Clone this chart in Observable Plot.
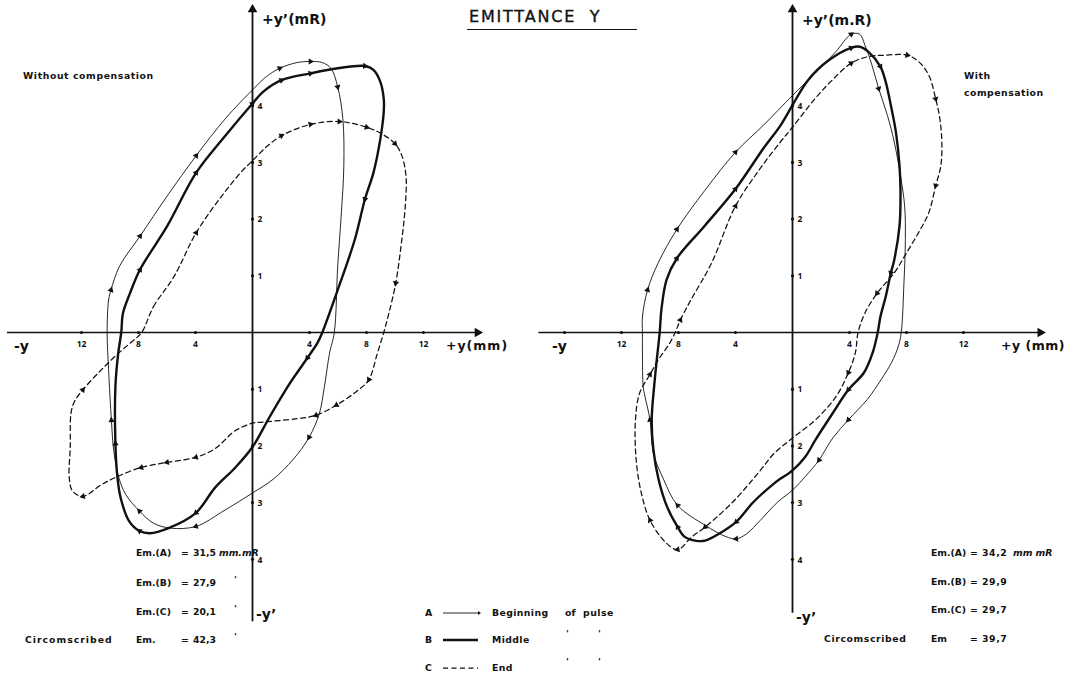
<!DOCTYPE html>
<html>
<head>
<meta charset="utf-8">
<title>Emittance Y</title>
<script src="https://cdn.jsdelivr.net/npm/d3@7"></script>
<script src="https://cdn.jsdelivr.net/npm/@observablehq/plot@0.6"></script>
<style>
  html, body { margin: 0; padding: 0; background: #fff; }
  #fig { position: relative; width: 1078px; height: 679px; overflow: hidden; background: #fff;
         font-family: "DejaVu Sans", "Liberation Sans", sans-serif; color: #111; }
  #fig .panel { position: absolute; top: 0; }
  #fig .t { position: absolute; white-space: pre; font-weight: bold; line-height: 1; transform: translateY(-50%); }
  #fig .small { font-size: 9.3px; }
  #fig .axl { font-size: 14px; }
  #fig .axm { font-size: 12.5px; }
  #title { position: absolute; left: 469px; top: 7px; font-size: 16px; letter-spacing: 1.8px; white-space: pre; -webkit-text-stroke: 0.35px #111; }
  #title-rule { position: absolute; left: 467px; top: 29px; width: 170px; border-top: 1.4px solid #111; }
</style>
</head>
<body>
<div id="fig"></div>
<script>
// ---- axes: tick values and their printed labels ----
const xTicksLeft = [-12, -8, -4, 4, 8, 12];
const xTickLabelsLeft = ["12", "8", "4", "4", "8", "12"];
const xTicksRight = [-16, -12, -8, -4, 4, 8, 12];
const xTickLabelsRight = ["", "12", "8", "4", "4", "8", "12"];
const yTicks = [4, 3, 2, 1, -1, -2, -3, -4];
const yTickLabels = ["4", "3", "2", "1", "1", "2", "3", "4"];

// ---- emittance contours [y (mm), y' (mR), arrowhead?] traced clockwise ----
// Without compensation
const leftA = [
  [-10.2, 0], [-10.1, 0.57], [-9.93, 0.75, 1], [-9.33, 1.17], [-7.89, 1.7, 1], [-5.98, 2.41],
  [-3.95, 3.12, 1], [-1.91, 3.77], [0.12, 4.31], [0.96, 4.51], [1.91, 4.66, 1], [3.11, 4.76],
  [4.07, 4.78, 1], [4.9, 4.76], [5.5, 4.66], [5.98, 4.33, 1], [6.34, 3.77], [6.41, 2.94],
  [6.22, 2.05], [5.98, 1.17], [5.74, 0],
  [5.41, -0.36], [5.05, -0.95], [4.69, -1.43], [3.97, -1.85, 1], [2.88, -2.23], [1.44, -2.59],
  [0, -2.83], [-1.92, -3.13], [-3.97, -3.42, 1], [-5.77, -3.45], [-6.97, -3.36], [-7.93, -3.15, 1],
  [-8.89, -2.86], [-9.38, -2.56], [-9.74, -2.08], [-9.9, -1.55, 1], [-10.1, -0.65]
];
const leftB = [
  [-9.21, 0], [-9.09, 0.34], [-8.6, 0.69], [-7.89, 1.11, 1], [-5.98, 1.88], [-3.95, 2.82, 1],
  [-1.91, 3.47], [0, 4.04, 1], [0.72, 4.24], [2.03, 4.45, 1], [4.07, 4.57, 1], [5.98, 4.66],
  [7.89, 4.7, 1], [8.49, 4.63], [8.97, 4.42], [9.21, 4.12], [9.21, 3.89], [8.97, 3.41],
  [8.49, 2.82], [7.89, 2.35, 1], [7.18, 1.64], [5.98, 0.75], [4.9, 0],
  [4.57, -0.18], [3.85, -0.45, 1], [2.64, -0.89], [1.2, -1.49], [0, -2.02], [-1.2, -2.38],
  [-2.64, -2.74], [-3.97, -3.18, 1], [-5.89, -3.45], [-7.21, -3.54], [-7.93, -3.5, 1],
  [-8.65, -3.33], [-9.25, -2.92], [-9.5, -2.5], [-9.62, -1.96, 1], [-9.62, -0.95], [-9.42, -0.36]
];
const leftC = [
  [-7.78, 0], [-6.94, 0.46], [-5.5, 0.99], [-3.95, 1.76, 1], [-2.15, 2.41], [-0.72, 2.85],
  [0, 3.03], [0.96, 3.27], [2.03, 3.47, 1], [4.07, 3.67, 1], [6.1, 3.72, 1], [8.01, 3.62, 1],
  [9.09, 3.5], [10.0, 3.33, 1], [10.48, 3.12], [10.77, 2.76], [10.72, 2.23], [10.48, 1.64],
  [10.05, 0.87, 1], [9.57, 0.34], [9.21, 0],
  [8.77, -0.36], [8.17, -0.83, 1], [7.45, -1.01], [5.89, -1.28, 1], [4.45, -1.46, 1],
  [3.13, -1.52], [0.72, -1.58], [0, -1.6], [-1.2, -1.73], [-2.64, -2.05], [-3.97, -2.2, 1],
  [-6.0, -2.29, 1], [-7.81, -2.38, 1], [-9.38, -2.53], [-10.58, -2.68], [-11.9, -2.89, 1],
  [-12.62, -2.8], [-12.86, -2.56], [-12.79, -2.02], [-12.74, -1.43], [-12.5, -1.22],
  [-11.9, -1.01, 1], [-10.58, -0.65], [-9.38, -0.36], [-8.41, -0.15]
];
// With compensation
const rightA = [
  [-10.53, 0], [-10.53, 0.28], [-10.17, 0.75, 1], [-9.44, 1.22], [-8.11, 1.82, 1], [-6.17, 2.5],
  [-4.0, 3.18, 1], [-2.06, 3.65], [0, 4.18], [1.57, 4.57], [3.03, 4.95], [4.12, 5.26, 1],
  [4.72, 5.26], [5.08, 5.07], [5.57, 4.72], [6.05, 4.3, 1], [6.66, 3.83], [7.14, 3.36],
  [7.58, 2.76], [7.87, 2.23], [7.92, 1.64], [7.82, 0.87], [7.63, 0],
  [7.43, -0.24], [6.95, -0.53], [6.22, -0.83], [5.25, -1.18], [3.92, -1.54, 1], [2.83, -1.86],
  [1.86, -2.25, 1], [0.9, -2.54], [0, -2.78], [-1.04, -2.99], [-2.25, -3.31], [-3.22, -3.55],
  [-3.95, -3.64, 1], [-4.67, -3.6], [-6.13, -3.4], [-8.06, -3.05, 1], [-9.03, -2.6],
  [-9.76, -2.13], [-10.0, -1.54, 1], [-10.36, -1.12], [-10.48, -0.95], [-10.53, -0.36]
];
const rightB = [
  [-9.32, 0], [-9.2, 0.4], [-8.84, 0.93], [-8.11, 1.31, 1], [-6.17, 1.88], [-4.0, 2.53, 1],
  [-2.06, 3.24], [-0.85, 3.65], [0, 4.01], [1.09, 4.45], [2.54, 4.8], [4.12, 5.02, 1],
  [4.72, 5.04], [5.33, 4.95], [6.17, 4.69, 1], [6.54, 4.42], [6.9, 4.01], [7.26, 3.53],
  [7.51, 2.94], [7.58, 2.47], [7.51, 1.88], [7.14, 1.28], [6.9, 1.05, 1], [6.54, 0.63],
  [6.17, 0.28], [5.98, 0],
  [5.62, -0.36], [5.01, -0.71], [3.92, -1.01, 1], [2.83, -1.42], [1.62, -1.89], [0.9, -2.19],
  [0, -2.43], [-1.28, -2.66], [-2.74, -2.99], [-3.95, -3.34, 1], [-5.16, -3.55], [-6.13, -3.67],
  [-6.85, -3.67], [-7.58, -3.6], [-8.06, -3.43, 1], [-8.79, -3.08], [-9.39, -2.6],
  [-9.76, -2.07], [-9.88, -1.54], [-9.71, -0.95], [-9.52, -0.47]
];
const rightC = [
  [-8.23, 0], [-7.87, 0.22, 1], [-7.14, 0.57], [-5.69, 1.22], [-4.0, 2.23, 1], [-2.3, 2.88],
  [-0.85, 3.36], [0, 3.62], [1.57, 4.12], [2.78, 4.45], [4.12, 4.75, 1], [5.21, 4.86],
  [6.42, 4.89], [8.06, 4.89, 1], [8.84, 4.78], [9.56, 4.54], [10.05, 4.12, 1], [10.34, 3.77],
  [10.48, 3.36], [10.41, 2.94], [10.05, 2.59, 1], [9.56, 2.11], [8.84, 1.76], [7.99, 1.4],
  [7.14, 1.05], [5.93, 0.69, 1], [5.08, 0.34], [4.6, 0],
  [4.41, -0.36], [3.92, -0.71, 1], [3.08, -1.12], [1.62, -1.54], [0, -1.86], [-1.28, -2.13],
  [-2.25, -2.43], [-4.19, -2.99], [-6.13, -3.43, 1], [-7.09, -3.61], [-8.06, -3.83, 1],
  [-8.91, -3.7], [-10.0, -3.31, 1], [-10.6, -2.84], [-10.97, -2.25], [-11.02, -1.54],
  [-10.73, -1.07], [-10.0, -0.74, 1], [-9.39, -0.47], [-8.67, -0.21]
];

// ---- annotations ----
const emNamesLeft = ["Em.(A)", "Em.(B)", "Em.(C)", "Em."];
const emValuesLeft = ["31,5", "27,9", "20,1", "42,3"];
const emNamesRight = ["Em.(A)", "Em.(B)", "Em.(C)", "Em"];
const emValuesRight = ["34,2", "29,9", "29,7", "39,7"];
const legendKeys = ["A", "B", "C"];
const legendLabels = ["Beginning", "Middle", "End"];

// ---- layout ----
const fig = document.getElementById("fig");
const PW = 539, PH = 679;          // panel size in px
const KX = 14.25, KY = 56.7;       // px per mm, px per mR
const STYLE = {
  A: {strokeWidth: 0.9},
  B: {strokeWidth: 2.4},
  C: {strokeWidth: 1.25, strokeDasharray: "5,3.5"}
};

function arrowheads(pts) {
  const n = pts.length;
  return pts.flatMap((p, i) => {
    if (!p[2]) return [];
    const a = pts[(i - 1 + n) % n], b = pts[(i + 1) % n];
    const dx = (b[0] - a[0]) * KX, dy = -(b[1] - a[1]) * KY;
    return [{x: p[0], y: p[1], angle: Math.atan2(dx, -dy) * 180 / Math.PI}];
  });
}

function panel({left, originX, originY, curves, xTicks, xTickLabels, xExtent, yExtent}) {
  const x = {domain: [-originX / KX, (PW - originX) / KX], range: [0, PW], axis: null};
  const y = {domain: [-(PH - originY) / KY, originY / KY], range: [PH, 0], axis: null};
  const marks = [
    Plot.ruleY([0], {x1: xExtent[0], x2: xExtent[1], stroke: "#111", strokeWidth: 1.3}),
    Plot.ruleX([0], {y1: yExtent[0], y2: yExtent[1], stroke: "#111", strokeWidth: 1.8}),
    Plot.dot([xExtent[1]], {x: d => d, y: 0, symbol: "triangle", r: 3.6, fill: "#111", stroke: null, rotate: 90, dx: -3}),
    Plot.dot([yExtent[1]], {x: 0, y: d => d, symbol: "triangle", r: 3.6, fill: "#111", stroke: null, dy: 3}),
    Plot.dot(xTicks, {x: d => d, y: 0, r: 1.6, fill: "#111", stroke: null}),
    Plot.dot(yTicks, {x: 0, y: d => d, r: 1.6, fill: "#111", stroke: null}),
    Plot.text(xTicks, {x: d => d, y: 0, text: (d, i) => xTickLabels[i], dy: 12, fontSize: 8.5, fontWeight: "bold", fill: "#111"}),
    Plot.text(yTicks, {x: 0, y: d => d, text: (d, i) => yTickLabels[i], dx: 5, dy: 0.5, textAnchor: "start", fontSize: 8.5, fontWeight: "bold", fill: "#111"})
  ];
  for (const [key, pts] of Object.entries(curves)) {
    marks.push(Plot.line(pts, {x: d => d[0], y: d => d[1], curve: "catmull-rom-closed",
      stroke: "#111", strokeLinejoin: "round", ...STYLE[key]}));
    marks.push(Plot.dot(arrowheads(pts), {x: "x", y: "y", rotate: "angle", symbol: "triangle",
      r: 2.3, fill: "#111", stroke: null}));
  }
  const svg = Plot.plot({
    width: PW, height: PH, margin: 0, x, y,
    style: {background: "transparent", overflow: "visible"},
    marks
  });
  svg.classList.add("panel");
  svg.style.left = left + "px";
  fig.appendChild(svg);
}

panel({left: 0, originX: 252, originY: 332, curves: {C: leftC, A: leftA, B: leftB},
  xTicks: xTicksLeft, xTickLabels: xTickLabelsLeft, xExtent: [-17.2, 16.0], yExtent: [-5.1, 5.75]});
panel({left: PW, originX: 792 - PW, originY: 332, curves: {C: rightC, A: rightA, B: rightB},
  xTicks: xTicksRight, xTickLabels: xTickLabelsRight, xExtent: [-17.8, 17.6], yExtent: [-4.95, 5.75]});

// ---- text ----
function put(text, left, cy, cls, extra) {
  const el = document.createElement("div");
  el.className = "t " + cls;
  el.textContent = text;
  el.style.left = left + "px";
  el.style.top = cy + "px";
  if (extra) Object.assign(el.style, extra);
  fig.appendChild(el);
  return el;
}

const title = document.createElement("div");
title.id = "title";
title.textContent = "EMITTANCE  Y";
fig.appendChild(title);
const rule = document.createElement("div");
rule.id = "title-rule";
fig.appendChild(rule);

// axis names
put("+y\u2019(mR)", 262, 19, "axl");
put("-y", 14, 346, "axl");
put("+y(mm)", 446, 346, "axm", {letterSpacing: "1px"});
put("-y\u2019", 256, 614, "axl");
put("+y\u2019(m.R)", 802, 20, "axl");
put("-y", 552, 346, "axl");
put("+y (mm)", 1001, 346, "axm", {letterSpacing: "0.5px"});
put("-y\u2019", 796, 617, "axl");

put("Without compensation", 23, 76, "small", {letterSpacing: "0.6px"});
put("With", 964, 76, "small", {letterSpacing: "0.5px"});
put("compensation", 964, 93, "small", {letterSpacing: "0.5px"});

// emittance values
const rowsLeft = [553, 583, 612, 640];
emNamesLeft.forEach((name, i) => {
  const cy = rowsLeft[i];
  put(name, 136, cy, "small");
  put("=", 181, cy, "small");
  put(emValuesLeft[i], 193, cy, "small");
  put(i === 0 ? "mm.mR" : "'", i === 0 ? 219 : 234, cy - (i === 0 ? 0 : 3), "small", i === 0 ? {fontStyle: "italic"} : {});
});
put("Circomscribed", 25, rowsLeft[3], "small", {letterSpacing: "1px"});

const rowsRight = [553, 582, 610, 639];
emNamesRight.forEach((name, i) => {
  const cy = rowsRight[i];
  put(name, 931, cy, "small");
  put("=", 970, cy, "small");
  put(emValuesRight[i], 982, cy, "small", {letterSpacing: "0.6px"});
  if (i === 0) put("mm mR", 1013, cy, "small", {fontStyle: "italic"});
});
put("Circomscribed", 824, rowsRight[3], "small", {letterSpacing: "0.6px"});

// legend
const legendRows = [613, 640, 668];
const legSvg = d3.create("svg").attr("width", 44).attr("height", 80)
  .style("position", "absolute").style("left", "440px").style("top", "600px");
legendKeys.forEach((k, i) => {
  const yy = legendRows[i] - 600;
  const s = STYLE[k];
  legSvg.append("line").attr("x1", 3).attr("x2", 38).attr("y1", yy).attr("y2", yy)
    .attr("stroke", "#111").attr("stroke-width", s.strokeWidth)
    .attr("stroke-dasharray", s.strokeDasharray || null);
  put(k, 425, legendRows[i], "small");
  put(legendLabels[i], 492, legendRows[i], "small", {letterSpacing: "0.4px"});
});
legSvg.append("path").attr("d", `M38,${legendRows[0] - 600 - 2}L41,${legendRows[0] - 600}L38,${legendRows[0] - 600 + 2}Z`).attr("fill", "#111");
fig.appendChild(legSvg.node());
put("of", 565, legendRows[0], "small");
put("pulse", 583, legendRows[0], "small", {letterSpacing: "0.5px"});
[1, 2].forEach(i => {
  put("'", 566, legendRows[i] - 6, "small");
  put("'", 598, legendRows[i] - 6, "small");
});
</script>
</body>
</html>
